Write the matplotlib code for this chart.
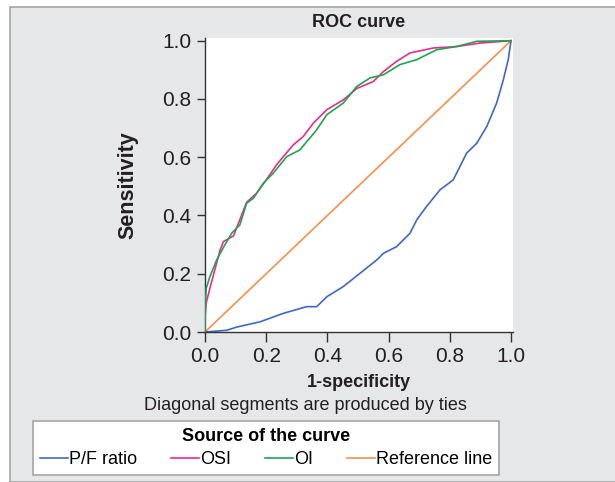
import matplotlib
matplotlib.use('Agg')
import matplotlib.pyplot as plt
from matplotlib.patches import Rectangle

plt.rcParams['font.family'] = ['Liberation Sans', 'DejaVu Sans']

# ROC curves (1-specificity, sensitivity)
pf_x = [0, 0.071, 0.104, 0.18, 0.256, 0.332, 0.365, 0.398, 0.452, 0.507, 0.561, 0.583,
        0.626, 0.67, 0.692, 0.724, 0.768, 0.811, 0.855, 0.888, 0.921, 0.953, 0.975, 0.991, 1.0]
pf_y = [0, 0.006, 0.017, 0.035, 0.064, 0.087, 0.087, 0.121, 0.156, 0.202, 0.247, 0.27,
        0.293, 0.339, 0.385, 0.431, 0.488, 0.522, 0.614, 0.648, 0.706, 0.786, 0.866, 0.935, 1.0]

osi_x = [0, 0, 0.004, 0.016, 0.049, 0.06, 0.093, 0.136, 0.169, 0.2, 0.234, 0.256, 0.289,
         0.321, 0.354, 0.398, 0.452, 0.496, 0.55, 0.583, 0.626, 0.67, 0.746, 0.822, 0.899, 1.0]
osi_y = [0, 0.05, 0.1, 0.15, 0.28, 0.31, 0.33, 0.445, 0.477, 0.522, 0.574, 0.602, 0.643,
         0.671, 0.717, 0.763, 0.797, 0.836, 0.86, 0.894, 0.929, 0.958, 0.975, 0.98, 0.992, 1.0]

oi_x = [0, 0, 0.004, 0.016, 0.038, 0.06, 0.087, 0.114, 0.136, 0.158, 0.19, 0.223, 0.267,
        0.31, 0.365, 0.398, 0.452, 0.496, 0.539, 0.583, 0.637, 0.692, 0.757, 0.822, 0.888, 1.0]
oi_y = [0, 0.07, 0.15, 0.19, 0.247, 0.29, 0.339, 0.368, 0.442, 0.459, 0.51, 0.545, 0.602,
        0.625, 0.694, 0.746, 0.786, 0.843, 0.872, 0.883, 0.918, 0.935, 0.969, 0.98, 0.998, 1.0]

ref_x = [0, 1]
ref_y = [0, 1]

ticks = [0.0, 0.2, 0.4, 0.6, 0.8, 1.0]
tick_labels = ['0.0', '0.2', '0.4', '0.6', '0.8', '1.0']

txt = '#231f20'

fig = plt.figure(figsize=(6.15, 4.82), dpi=100)
fig.patch.set_facecolor('white')
fig.patches.append(Rectangle((10 / 615, 0), 1.0, 475 / 482, transform=fig.transFigure,
                             facecolor='#e6e7e9', edgecolor='#a3a4a6', lw=1.2, zorder=-10))

ax = fig.add_axes([205 / 615, 150 / 482, 308 / 615, 294 / 482])
ax.set_facecolor('white')
lw = 1.2
ax.plot(ref_x, ref_y, color='#f5904f', lw=lw, label='Reference line', zorder=1)
ax.plot(pf_x, pf_y, color='#3f68c2', lw=lw, label='P/F ratio', zorder=2)
ax.plot(osi_x, osi_y, color='#ec2a8e', lw=lw, label='OSI', zorder=3)
ax.plot(oi_x, oi_y, color='#1ea54c', lw=lw, label='OI', zorder=4)

ax.set_xlim(0, 1.0065)
ax.set_ylim(0, 1.0093)
ax.set_xticks(ticks, tick_labels)
ax.set_yticks(ticks, tick_labels)
for s in ['top', 'right']:
    ax.spines[s].set_visible(False)
for s in ['left', 'bottom']:
    ax.spines[s].set_color('#333333')
    ax.spines[s].set_linewidth(1.0)
ax.tick_params(direction='out', width=1.0, color='#333333', labelsize=15, labelcolor=txt)
ax.tick_params(axis='x', length=7.5, pad=3)
ax.tick_params(axis='y', length=6, pad=4)

ax.set_title('ROC curve', fontsize=13, fontweight='bold', color=txt, pad=8)
ax.set_ylabel('Sensitivity', fontsize=15.5, fontweight='bold', color=txt, labelpad=17)
ax.set_xlabel('1-specificity', fontsize=13, fontweight='bold', color=txt, labelpad=6)
fig.text(305 / 615, 1 - 406 / 482, 'Diagonal segments are produced by ties', fontsize=13,
         color=txt, ha='center', va='center')

h, l = ax.get_legend_handles_labels()
order = [1, 2, 3, 0]
leg = fig.legend([h[i] for i in order], [l[i] for i in order], ncol=4,
                 loc='center', bbox_to_anchor=(266 / 615, 1 - 448 / 482),
                 title='Source of the curve', title_fontproperties={'weight': 'bold', 'size': 13},
                 fontsize=13, frameon=True, fancybox=False, framealpha=1,
                 handlelength=1.55, handletextpad=0.05, columnspacing=1.89,
                 borderpad=0.39, borderaxespad=0, labelspacing=0.2)
leg._legend_box.sep = 4.8  # gap between legend title and entries
leg.get_frame().set_edgecolor('#a3a4a6')
leg.get_frame().set_linewidth(1.2)
for line in leg.get_lines():
    line.set_linewidth(1.2)

fig.savefig('out.png', dpi=100)
